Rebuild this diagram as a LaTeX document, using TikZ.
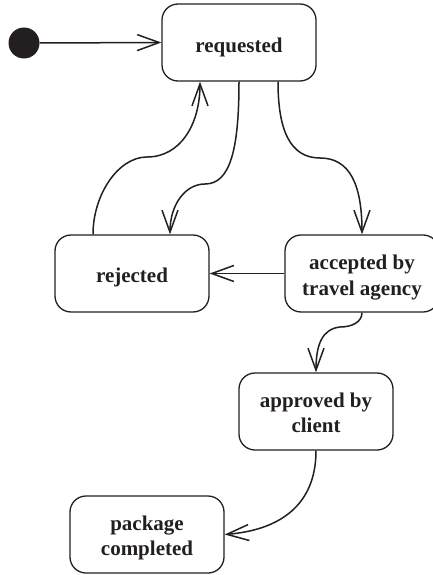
\documentclass[tikz,border=0pt]{standalone}
\usepackage{fontspec}
\setmainfont{Liberation Serif}
\usetikzlibrary{arrows.meta}
\definecolor{ink}{HTML}{231F20}
\tikzset{
  statebox/.style={draw=ink, line width=1.3pt, rounded corners=16pt, minimum width=154pt, minimum height=77pt, inner sep=0pt},
  stxt/.style={text=ink, font=\bfseries\fontsize{21}{25.5}\selectfont, align=center, inner sep=0pt, anchor=base},
  conn/.style={draw=ink, line width=1.5pt, -{Straight Barb[length=22pt,width=16pt]}},
}
\begin{document}
\begin{tikzpicture}[x=1pt,y=-1pt]
\clip (0,0) rectangle (433,575);
\fill[white] (0,0) rectangle (433,575);
% states
\node[statebox] (req) at (239,42.5) {};
\node[statebox] (rej) at (132,273.5) {};
\node[statebox] (acc) at (362,273.5) {};
\node[statebox] (app) at (316,411.5) {};
\node[statebox] (pkg) at (147,534.5) {};
\node[circle, fill=ink, minimum size=31pt, inner sep=0pt] (init) at (24,43) {};
% texts
\node[stxt] (reqt) at ([yshift=-10pt]req.center) {requested};
\node[stxt] (rejt) at ([yshift=-8.5pt]rej.center) {rejected};
\node[stxt] (acct) at ([yshift=-21.5pt]acc.center) {accepted by\\travel agency};
\node[stxt] (appt) at ([yshift=-21pt]app.center) {approved by\\client};
\node[stxt] (pkgt) at ([yshift=-21pt]pkg.center) {package\\completed};
% connectors
\draw[conn] (init.east) -- (req.west);
\draw[conn] ([xshift=-39pt]rej.north) .. controls (93,195) and (118,157) .. (147,157)
  .. controls (180,157) and (200,125) .. ([xshift=-39pt]req.south);
\draw[conn] (req.south) .. controls (239,150) and (230,184) .. (205,184)
  .. controls (185,184) and (170,205) .. ([xshift=38pt]rej.north);
\draw[conn] ([xshift=39pt]req.south) .. controls (278,130) and (290,158) .. (320,158)
  .. controls (350,158) and (362,185) .. (acc.north);
\draw[conn] (acc.west) -- (rej.east);
\draw[conn] (acc.south) .. controls (362,322) and (352,327) .. (340,327)
  .. controls (322,329) and (316,345) .. (app.north);
\draw[conn] (app.south) .. controls (316,505) and (280,530) .. (pkg.east);
\end{tikzpicture}
\end{document}
